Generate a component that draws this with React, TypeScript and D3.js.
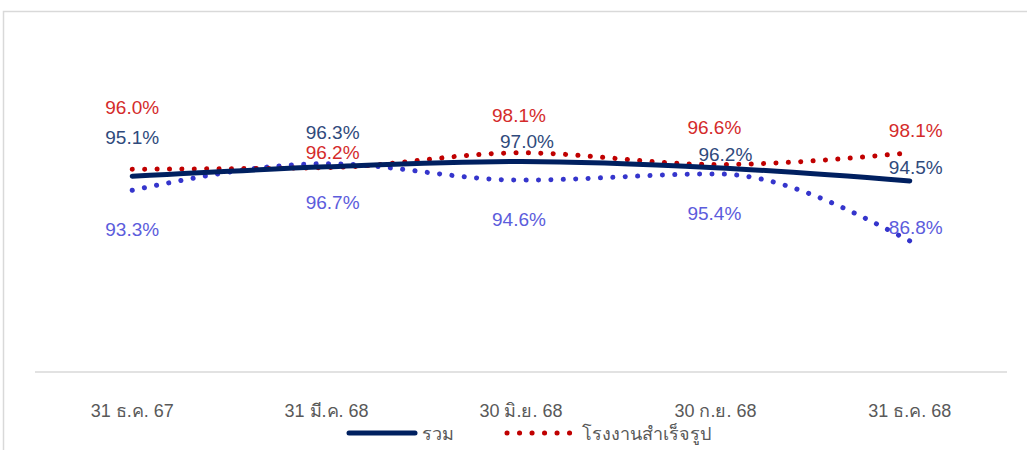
import React from "react";
import * as d3 from "d3";

const categories = ["31 ธ.ค. 67", "31 มี.ค. 68", "30 มิ.ย. 68", "30 ก.ย. 68", "31 ธ.ค. 68"];
const totalValues = [95.1, 96.3, 97.0, 96.2, 94.5];
const finishedValues = [96.0, 96.2, 98.1, 96.6, 98.1];
const otherValues = [93.3, 96.7, 94.6, 95.4, 86.8];
const legendLabels = ["รวม", "โรงงานสำเร็จรูป"];

// label layout offsets (dx, dy) relative to each point
const totalLabelOffsets = [[0, -39], [6, -35], [6, -20], [10, -14], [6, -14]];
const finishedLabelOffsets = [[0, -62], [6, -16], [-2, -38], [-1, -38], [6, -23]];
const otherLabelOffsets = [[0, 39], [6, 38], [-2, 39], [-1, 39], [6, -14]];

const W = 1027;
const H = 450;
const FONT = "'Liberation Sans', Arial, sans-serif";

export default function App() {
  const x = d3.scaleBand<string>().domain(categories).range([35, 1007]);
  const cx = (c: string) => (x(c) as number) + x.bandwidth() / 2;
  const y = d3.scaleLinear().domain([70, 100]).range([372, 138]);

  const line = d3
    .line<number>()
    .x((_, i) => cx(categories[i]))
    .y((d) => y(d))
    .curve(d3.curveMonotoneX);

  const series = [
    { values: otherValues, color: "#3535cc", dotted: true, labelColor: "#5c5cdc", offsets: otherLabelOffsets },
    { values: finishedValues, color: "#c00000", dotted: true, labelColor: "#d42b2b", offsets: finishedLabelOffsets },
    { values: totalValues, color: "#002060", dotted: false, labelColor: "#2f4a7c", offsets: totalLabelOffsets },
  ];

  return (
    <svg
      width={W}
      height={H}
      style={{ position: "absolute", left: 0, top: 0, background: "#fff" }}
      fontFamily={FONT}
    >
      <rect x={3.5} y={11.5} width={1100} height={600} fill="none" stroke="#d9d9d9" strokeWidth={1.5} />
      <line x1={35} x2={1007} y1={372} y2={372} stroke="#d9d9d9" strokeWidth={1.5} />
      {categories.map((c) => (
        <text key={c} x={cx(c)} y={417} textAnchor="middle" fontSize={18} fill="#595959">
          {c}
        </text>
      ))}
      {series.map((s, si) => (
        <path
          key={si}
          d={line(s.values) || ""}
          fill="none"
          stroke={s.color}
          strokeWidth={5}
          strokeLinecap="round"
          strokeDasharray={s.dotted ? "0.1 12.3" : undefined}
        />
      ))}
      {series.map((s, si) =>
        s.values.map((v, i) => (
          <text
            key={`${si}-${i}`}
            x={cx(categories[i]) + s.offsets[i][0]}
            y={y(v) + s.offsets[i][1] + 7}
            textAnchor="middle"
            fontSize={19}
            fill={s.labelColor}
          >
            {v.toFixed(1)}%
          </text>
        ))
      )}
      <line x1={349} x2={415} y1={433} y2={433} stroke="#002060" strokeWidth={5} strokeLinecap="round" />
      <text x={422} y={440} fontSize={18} fill="#595959">{legendLabels[0]}</text>
      <line x1={507} x2={570} y1={433} y2={433} stroke="#c00000" strokeWidth={5} strokeLinecap="round" strokeDasharray="0.1 12.4" />
      <text x={582} y={440} fontSize={18} fill="#595959">{legendLabels[1]}</text>
    </svg>
  );
}
